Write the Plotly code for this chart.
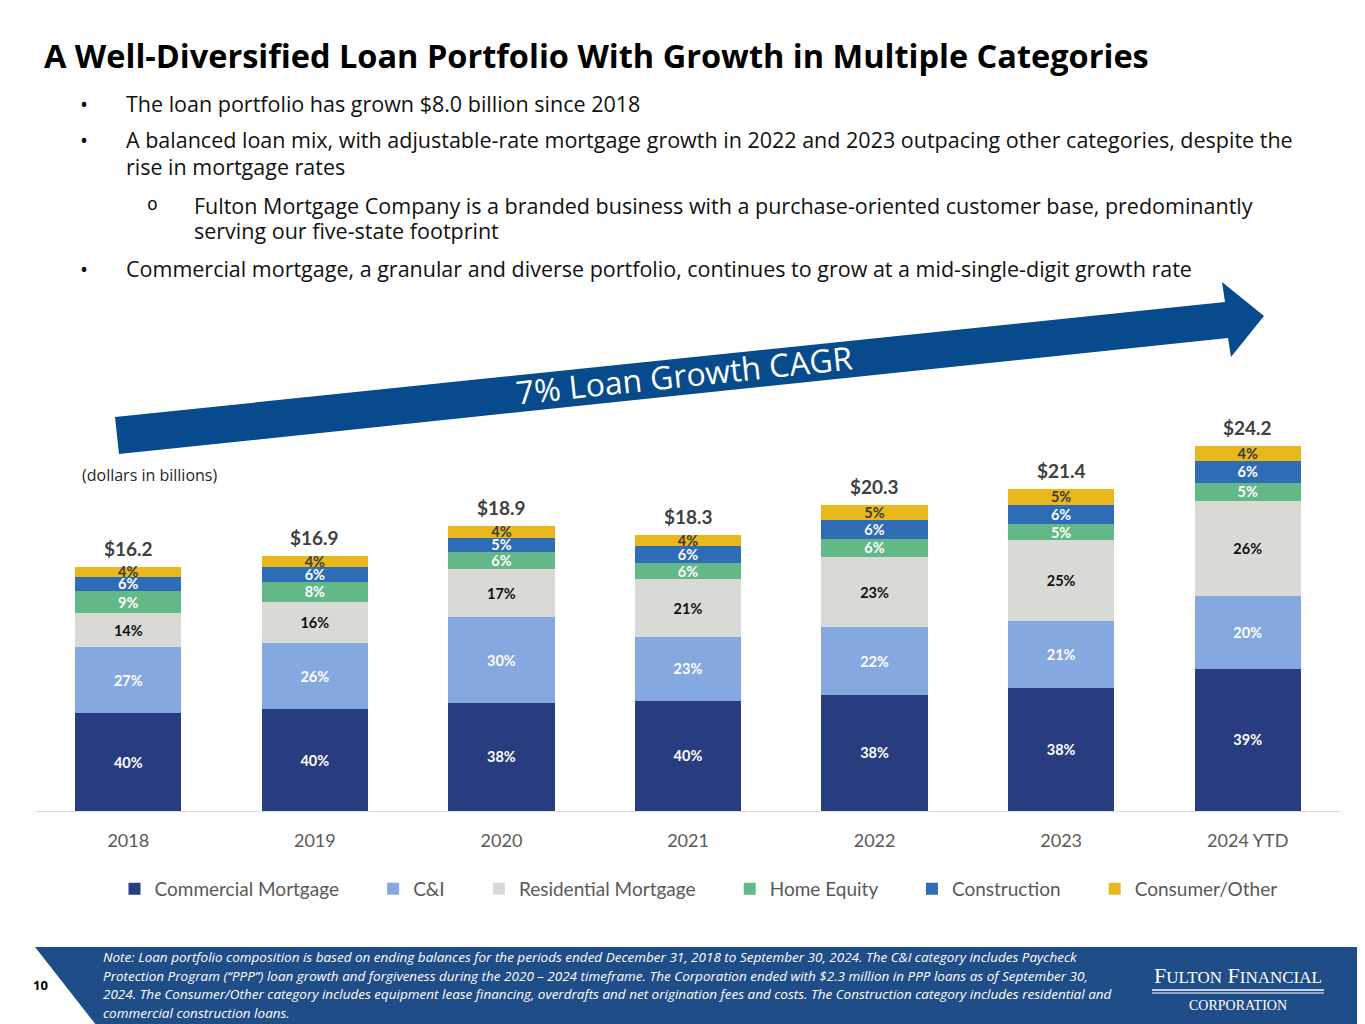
import plotly.graph_objects as go

# ---- data ----
years = ["2018", "2019", "2020", "2021", "2022", "2023", "2024 YTD"]
totals = [16.2, 16.9, 18.9, 18.3, 20.3, 21.4, 24.2]  # $ billions

categories = [
    "Commercial Mortgage",
    "C&I",
    "Residential Mortgage",
    "Home Equity",
    "Construction",
    "Consumer/Other",
]
pct_commercial_mortgage = [40, 40, 38, 40, 38, 38, 39]
pct_c_and_i = [27, 26, 30, 23, 22, 21, 20]
pct_residential_mortgage = [14, 16, 17, 21, 23, 25, 26]
pct_home_equity = [9, 8, 6, 6, 6, 5, 5]
pct_construction = [6, 6, 5, 6, 6, 6, 6]
pct_consumer_other = [4, 4, 4, 4, 5, 5, 4]

title_text = "A Well-Diversified Loan Portfolio With Growth in Multiple Categories"
arrow_label = "7% Loan Growth CAGR"
bullets = [
    ("•", "The loan portfolio has grown $8.0 billion since 2018", 103),
    ("•", "A balanced loan mix, with adjustable-rate mortgage growth in 2022 and 2023 outpacing other categories, despite the", 139),
    ("", "rise in mortgage rates", 166),
    ("•", "Commercial mortgage, a granular and diverse portfolio, continues to grow at a mid-single-digit growth rate", 268),
]
sub_bullets = [
    ("o", "Fulton Mortgage Company is a branded business with a purchase-oriented customer base, predominantly", 205),
    ("", "serving our five-state footprint", 231),
]
note_lines = [
    "Note: Loan portfolio composition is based on ending balances for the periods ended December 31, 2018 to September 30, 2024. The C&I category includes Paycheck",
    "Protection Program (“PPP”) loan growth and forgiveness during the 2020 – 2024 timeframe. The Corporation ended with $2.3 million in PPP loans as of September 30,",
    "2024. The Consumer/Other category includes equipment lease financing, overdrafts and net origination fees and costs. The Construction category includes residential and",
    "commercial construction loans.",
]

pcts = [
    pct_commercial_mortgage,
    pct_c_and_i,
    pct_residential_mortgage,
    pct_home_equity,
    pct_construction,
    pct_consumer_other,
]
colors = ["#283c80", "#86a8e0", "#d9d9d6", "#62b886", "#2e6db6", "#e9b81c"]
text_colors = ["white", "white", "#111111", "white", "white", "#3a3a3a"]

# ---- page geometry ----
# the page body adds an 8px margin, so the figure is drawn 8px smaller and
# positions below are given in window pixels and shifted back
OFF = 8
W, H = 1365 - OFF, 1024 - OFF
L, R, T, B = 27, 24, 392, 213
PW, PH = W - L - R, H - T - B


def px(x):
    return (x - OFF - L) / PW


def py(y):
    return (H - B - (y - OFF)) / PH


fig = go.Figure()
for cat, pc, col, tcol in zip(categories, pcts, colors, text_colors):
    fig.add_trace(
        go.Bar(
            x=years,
            y=[t * p / 100 for t, p in zip(totals, pc)],
            name=cat + "\u00a0" * 6,
            marker=dict(color=col, line=dict(width=0)),
            text=[f"{p}%" for p in pc],
            textposition="inside",
            insidetextanchor="middle",
            textangle=0,
            textfont=dict(family="Lato", size=14.5, color=tcol, weight="bold"),
            hovertemplate=cat + " %{x}: %{text}<extra></extra>",
        )
    )

annotations = []
# totals above bars (x given as category index)
for i, tot in enumerate(totals):
    annotations.append(
        dict(
            x=i, y=tot, xref="x", yref="y", text=f"<b>${tot:.1f}</b>",
            showarrow=False, yanchor="bottom", yshift=5,
            font=dict(family="Lato", size=19, color="#404040"),
        )
    )

annotations.append(
    dict(x=px(42), y=py(55), xref="paper", yref="paper", text=f"<b>{title_text}</b>",
         showarrow=False, xanchor="left", yanchor="middle",
         font=dict(family="Open Sans", size=32.5, color="black"))
)

body_font = dict(family="Open Sans", size=21.5, color="#111111")
sub_mark_font = dict(family="Liberation Mono", size=18, color="#111111")
for group, mark_x, text_x, mark_font in [(bullets, 78, 124, body_font), (sub_bullets, 145, 192, sub_mark_font)]:
    for mark, txt, yy in group:
        if mark:
            annotations.append(dict(x=px(mark_x), y=py(yy), xref="paper", yref="paper", text=mark,
                                    showarrow=False, xanchor="left", yanchor="middle", font=mark_font))
        annotations.append(dict(x=px(text_x), y=py(yy), xref="paper", yref="paper", text=txt,
                                showarrow=False, xanchor="left", yanchor="middle", font=body_font))

# arrow label
annotations.append(
    dict(x=px(684), y=py(374), xref="paper", yref="paper", text=arrow_label,
         xanchor="center", yanchor="middle",
         showarrow=False, textangle=-6,
         font=dict(family="Open Sans", size=32, color="white"))
)
annotations.append(
    dict(x=px(80), y=py(475), xref="paper", yref="paper", text="(dollars in billions)",
         showarrow=False, xanchor="left", yanchor="middle",
         font=dict(family="Open Sans", size=16, color="#262626"))
)

# footer
annotations.append(
    dict(x=px(40), y=py(985), xref="paper", yref="paper", text="<b>10</b>",
         showarrow=False, xanchor="center", yanchor="middle",
         font=dict(family="Open Sans", size=13, color="black"))
)
for i, line in enumerate(note_lines):
    annotations.append(
        dict(x=px(101), y=py(957 + i * 18.7), xref="paper", yref="paper", text=f"<i>{line}</i>",
             showarrow=False, xanchor="left", yanchor="middle",
             font=dict(family="Open Sans", size=13.5, color="white"))
    )
annotations.append(
    dict(x=px(1238), y=py(975), xref="paper", yref="paper",
         text="F<span style='font-size:17px'>ULTON</span> F<span style='font-size:17px'>INANCIAL</span>",
         showarrow=False, xanchor="center", yanchor="middle",
         font=dict(family="Liberation Serif", size=22, color="white"))
)
annotations.append(
    dict(x=px(1238), y=py(1005), xref="paper", yref="paper", text="CORPORATION",
         showarrow=False, xanchor="center", yanchor="middle",
         font=dict(family="Liberation Serif", size=14, color="white"))
)


def poly(points):
    return "M " + " L ".join(f"{px(x):.5f},{py(y):.5f}" for x, y in points) + " Z"


arrow_pts = [(115, 417), (1225, 302), (1222, 282), (1264, 316), (1231, 357), (1228, 338), (119, 454)]
footer_pts = [(35, 947), (1375, 947), (1375, 1030), (100, 1030)]
shapes = [
    dict(type="path", xref="paper", yref="paper", path=poly(arrow_pts),
         fillcolor="#084b8c", line=dict(width=0), layer="below"),
    dict(type="path", xref="paper", yref="paper", path=poly(footer_pts),
         fillcolor="#1f4d87", line=dict(width=0), layer="below"),
    dict(type="line", xref="paper", yref="paper", x0=px(1152), x1=px(1324), y0=py(990), y1=py(990),
         line=dict(color="white", width=1.5)),
    dict(type="line", xref="paper", yref="paper", x0=px(1152), x1=px(1324), y0=py(993), y1=py(993),
         line=dict(color="white", width=1)),
]

fig.update_layout(
    width=W,
    height=H,
    barmode="stack",
    bargap=0.43,
    margin=dict(l=L, r=R, t=T, b=B),
    paper_bgcolor="white",
    plot_bgcolor="rgba(0,0,0,0)",
    annotations=annotations,
    shapes=shapes,
    uniformtext=dict(minsize=14.5, mode="show"),
    legend=dict(
        orientation="h",
        x=px(713),
        y=py(889),
        xanchor="center",
        yanchor="middle",
        font=dict(family="Lato", size=19, color="#595959"),
        traceorder="normal",
    ),
    showlegend=True,
)
fig.update_xaxes(
    type="category",
    range=[-0.5, len(years) - 0.5],
    showline=True,
    linecolor="#e0e0e0",
    linewidth=1,
    showgrid=False,
    ticks="",
    ticklabelstandoff=13,
    tickfont=dict(family="Lato", size=18, color="#595959"),
)
fig.update_yaxes(
    range=[0, (811 - 400) / 15.07],
    showgrid=False,
    zeroline=False,
    showticklabels=False,
)

fig.write_html("out.html")
